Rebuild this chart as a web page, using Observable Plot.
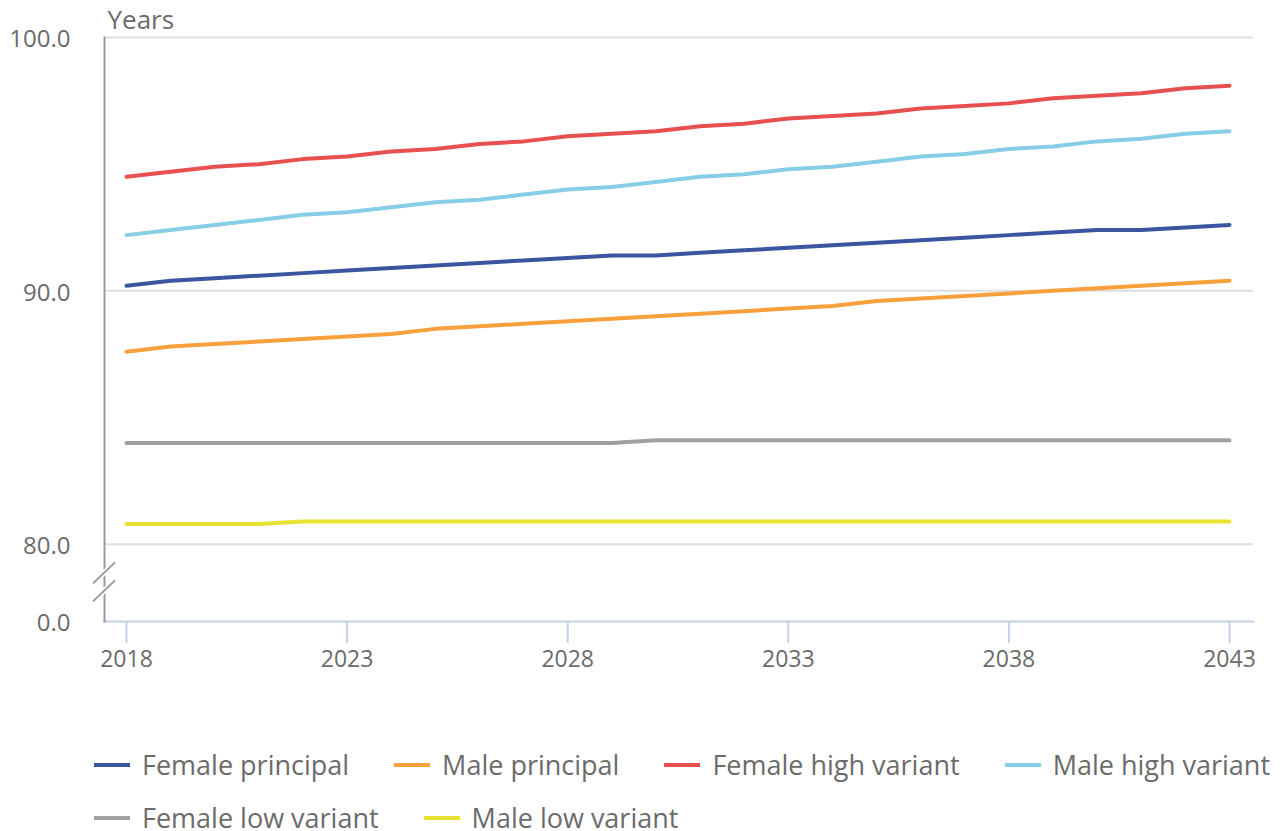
<!DOCTYPE html>
<html>
<head>
<meta charset="utf-8">
<script src="https://cdn.jsdelivr.net/npm/d3@7"></script>
<script src="https://cdn.jsdelivr.net/npm/@observablehq/plot@0.6"></script>
<style>
  html, body { margin: 0; padding: 0; background: #fff; }
  body { width: 1280px; height: 831px; overflow: hidden; font-family: "Open Sans", sans-serif; }
  #chart { height: 738px; overflow: hidden; }
  #legend { display: flex; flex-wrap: wrap; padding-left: 94px; column-gap: 45px; width: 1186px; }
  .item { display: flex; align-items: center; height: 53px; font-size: 27px; color: #6b6b6b; white-space: nowrap; }
  .sw { width: 36px; height: 4px; margin-right: 12px; }
</style>
</head>
<body>
<div id="chart"></div>
<div id="legend"></div>
<script>
const years = d3.range(2018, 2044);
const seriesNames = ["Female principal", "Male principal", "Female high variant", "Male high variant", "Female low variant", "Male low variant"];
const seriesColors = ["#3a56a0", "#f7a03c", "#e8504f", "#88cde6", "#a0a0a0", "#e9e232"];

const femalePrincipal = [90.2, 90.4, 90.5, 90.6, 90.7, 90.8, 90.9, 91.0, 91.1, 91.2, 91.3, 91.4, 91.4, 91.5, 91.6, 91.7, 91.8, 91.9, 92.0, 92.1, 92.2, 92.3, 92.4, 92.4, 92.5, 92.6];
const malePrincipal   = [87.6, 87.8, 87.9, 88.0, 88.1, 88.2, 88.3, 88.5, 88.6, 88.7, 88.8, 88.9, 89.0, 89.1, 89.2, 89.3, 89.4, 89.6, 89.7, 89.8, 89.9, 90.0, 90.1, 90.2, 90.3, 90.4];
const femaleHigh      = [94.5, 94.7, 94.9, 95.0, 95.2, 95.3, 95.5, 95.6, 95.8, 95.9, 96.1, 96.2, 96.3, 96.5, 96.6, 96.8, 96.9, 97.0, 97.2, 97.3, 97.4, 97.6, 97.7, 97.8, 98.0, 98.1];
const maleHigh        = [92.2, 92.4, 92.6, 92.8, 93.0, 93.1, 93.3, 93.5, 93.6, 93.8, 94.0, 94.1, 94.3, 94.5, 94.6, 94.8, 94.9, 95.1, 95.3, 95.4, 95.6, 95.7, 95.9, 96.0, 96.2, 96.3];
const femaleLow       = [84.0, 84.0, 84.0, 84.0, 84.0, 84.0, 84.0, 84.0, 84.0, 84.0, 84.0, 84.0, 84.1, 84.1, 84.1, 84.1, 84.1, 84.1, 84.1, 84.1, 84.1, 84.1, 84.1, 84.1, 84.1, 84.1];
const maleLow         = [80.8, 80.8, 80.8, 80.8, 80.9, 80.9, 80.9, 80.9, 80.9, 80.9, 80.9, 80.9, 80.9, 80.9, 80.9, 80.9, 80.9, 80.9, 80.9, 80.9, 80.9, 80.9, 80.9, 80.9, 80.9, 80.9];
const seriesValues = [femalePrincipal, malePrincipal, femaleHigh, maleHigh, femaleLow, maleLow];

const xTicks = [2018, 2023, 2028, 2033, 2038, 2043];
const yTicks = [0, 80, 90, 100];
const gridTicks = [80, 90, 100];

const rows = [];
seriesNames.forEach((name, i) => {
  seriesValues[i].forEach((v, j) => rows.push({series: name, year: years[j], value: v}));
});

// broken y axis: the 0–80 interval is compressed into a short stub
const breakAt = 80, stub = 3.05;
const yBreak = v => v >= breakAt ? v : breakAt - (breakAt - v) * (stub / breakAt);

const W = 1280, H = 740;
const textColor = "#6b6b6b";

const plot = Plot.plot({
  width: W,
  height: H,
  marginLeft: 104,
  marginRight: 27,
  marginTop: 37,
  marginBottom: 119,
  style: {fontFamily: "Open Sans, sans-serif", fontSize: "23px", color: textColor, background: "#fff"},
  x: {domain: [2018, 2043], range: [126, 1229]},
  y: {transform: yBreak, domain: [yBreak(0), 100]},
  color: {domain: seriesNames, range: seriesColors},
  marks: [
    Plot.gridY(gridTicks, {stroke: "#dedede", strokeOpacity: 1, strokeWidth: 2}),
    Plot.frame({anchor: "bottom", stroke: "#c6d1e8", strokeWidth: 2}),
    Plot.frame({anchor: "left", stroke: "#9a9a9a", strokeWidth: 2}),
    Plot.axisX(xTicks, {tickFormat: d => String(d), tickSize: 22, tickPadding: 7, stroke: "#c6d1e8", strokeWidth: 2, fill: textColor, label: null}),
    Plot.axisY(yTicks, {tickFormat: d3.format(".1f"), tickSize: 0, tickPadding: 34, dy: 2, fontSize: 24, fill: textColor, label: null}),
    Plot.text(["Years"], {frameAnchor: "top-left", text: d => d, dx: 3, dy: -27, textAnchor: "start", fill: textColor, fontSize: 26}),
    Plot.line(rows, {x: "year", y: "value", z: "series", stroke: "series", strokeWidth: 4, strokeLinecap: "round", strokeLinejoin: "round"})
  ]
});

// axis-break marks on the y axis, centred between y(0) and y(80)
const ys = plot.scale("y");
const yMid = (ys.apply(yBreak(0)) + ys.apply(yBreak(80))) / 2;
const xLeft = 104;
const svg = d3.select(plot);
[-9, 9].forEach(off => {
  svg.append("line")
    .attr("x1", xLeft - 11).attr("y1", yMid + off + 10)
    .attr("x2", xLeft + 11).attr("y2", yMid + off - 11)
    .attr("stroke", "#ffffff").attr("stroke-width", 5);
});
[-9, 9].forEach(off => {
  svg.append("line")
    .attr("x1", xLeft - 11).attr("y1", yMid + off + 10)
    .attr("x2", xLeft + 11).attr("y2", yMid + off - 11)
    .attr("stroke", "#9a9a9a").attr("stroke-width", 2);
});

document.getElementById("chart").append(plot);

const legend = document.getElementById("legend");
seriesNames.forEach((name, i) => {
  const it = document.createElement("div");
  it.className = "item";
  const sw = document.createElement("span");
  sw.className = "sw";
  sw.style.background = seriesColors[i];
  it.append(sw, document.createTextNode(name));
  legend.append(it);
});
</script>
</body>
</html>
